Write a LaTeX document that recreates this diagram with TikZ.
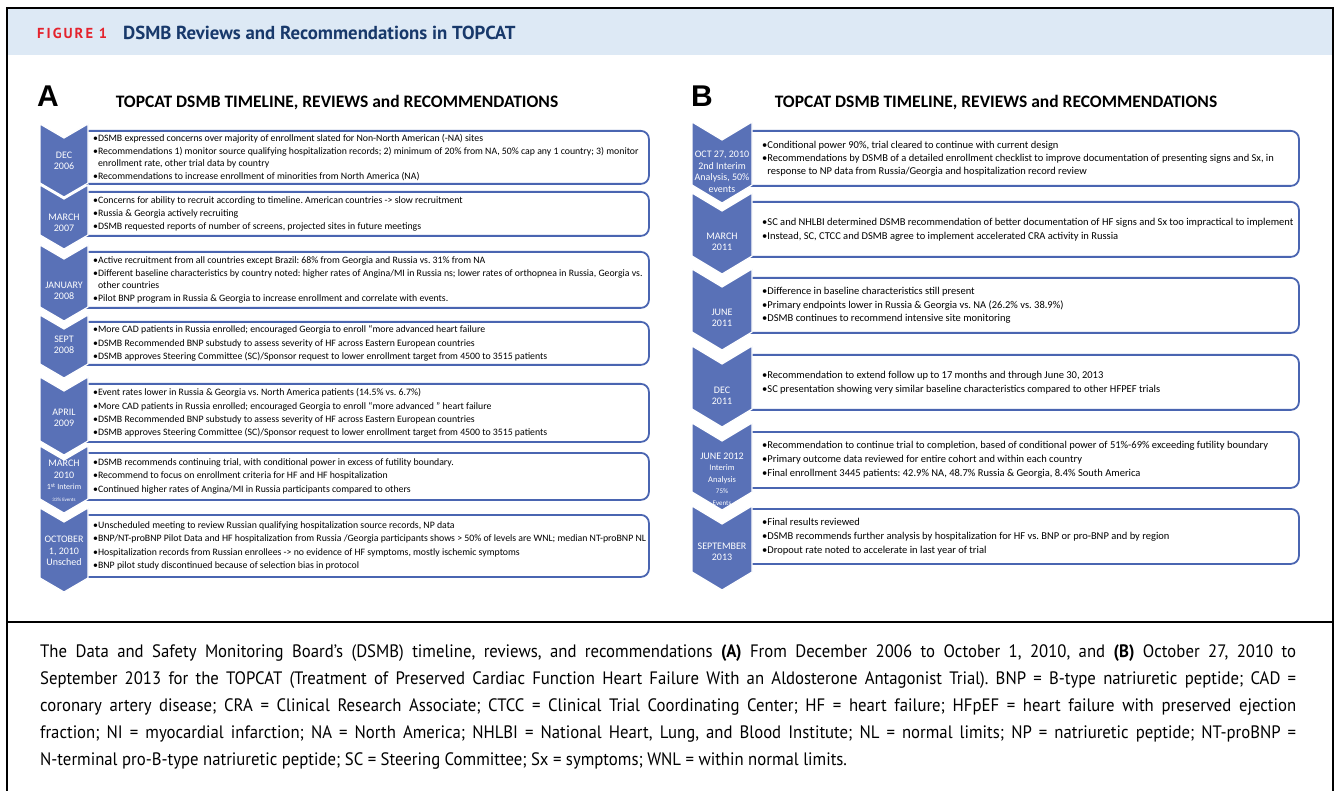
\documentclass[tikz,border=0pt]{standalone}
\usepackage{fontspec}
\setmainfont{Carlito}
\newfontfamily\capfont[FakeStretch=0.93]{PT Sans}
\newfontfamily\hdrfont{PT Sans}
\newfontfamily\panelfont{Liberation Sans}
\usetikzlibrary{positioning}

\definecolor{chevblue}{RGB}{89,113,183}
\definecolor{edgeblue}{RGB}{74,101,177}
\definecolor{hdrband}{RGB}{221,233,245}
\definecolor{figred}{RGB}{228,35,45}
\definecolor{navy}{RGB}{24,57,107}

% chevron: name, left x, right x, depth, top, bottom, label y, label
\newcommand{\chev}[8]{%
  \filldraw[chev] (#2,#5) -- ({(#2+#3)/2},{#5+#4}) -- (#3,#5) -- (#3,#6)
    -- ({(#2+#3)/2},{#6+#4}) -- (#2,#6) -- cycle;
  \node[datelab] (#1) at ({(#2+#3)/2},#7) {#8};
}

\begin{document}
\frenchspacing
\begin{tikzpicture}[x=1pt, y=-1pt,
  chev/.style={fill=chevblue, draw=white, line width=1.2pt},
  datelab/.style={text=white, align=center, inner sep=0, font=\fontsize{10}{11.5}\selectfont},
  abox/.style={draw=edgeblue, line width=1.8pt, rounded corners=8pt, fill=white,
    anchor=north west, minimum width=570pt, inner sep=0},
  bbox/.style={abox, minimum width=556pt},
  atxt/.style={align=left, inner sep=0, font=\fontsize{9.8}{11.6}\selectfont},
  btxt/.style={align=left, inner sep=0, font=\fontsize{10.5}{12.3}\selectfont},
  ptitle/.style={inner sep=0, font=\bfseries\fontsize{17.5}{19}\selectfont},
  plabel/.style={anchor=west, inner sep=0, font=\panelfont\bfseries\fontsize{30}{30}\selectfont}]

\useasboundingbox (0,0) rectangle (1336,791);

% frame and header
\fill[hdrband] (7,8) rectangle (1333,55);
\draw[line width=1.3pt] (7,8) rectangle (1333,800);
\draw[line width=1.3pt] (7,622) -- (1333,622);
\node[anchor=west, inner sep=0, text=figred, font=\hdrfont\bfseries\fontsize{14.5}{16}\selectfont] (fig) at (37,33) {\addfontfeatures{LetterSpace=14}FIGURE 1};
\node[anchor=west, inner sep=0, text=navy, font=\hdrfont\bfseries\fontsize{18.8}{21}\selectfont] (figtitle) at (123,33) {DSMB Reviews and Recommendations in TOPCAT};

% panel A
\node[plabel] (pa) at (37,96) {A};
\node[ptitle] (titleA) at (337,103) {TOPCAT DSMB TIMELINE, REVIEWS and RECOMMENDATIONS};

\node[abox, minimum height=53pt] (a1) at (78,130) {};
\node[abox, minimum height=44pt] (a2) at (78,191) {};
\node[abox, minimum height=56pt] (a3) at (78,251) {};
\node[abox, minimum height=43pt] (a4) at (78,321) {};
\node[abox, minimum height=58pt] (a5) at (78,383) {};
\node[abox, minimum height=47pt] (a6) at (78,452) {};
\node[abox, minimum height=62pt] (a7) at (78,514) {};

\chev{da1}{40}{88}{14}{124}{183}{161}{DEC\\2006}
\chev{da2}{40}{88}{14}{185}{235}{223}{MARCH\\2007}
\chev{da3}{40}{88}{14}{245}{307}{291}{JANUARY\\2008}
\chev{da4}{40}{88}{14}{315}{364}{345}{SEPT\\2008}
\chev{da5}{40}{88}{14}{377}{441}{418}{APRIL\\2009}
\chev{da6}{40}{88}{14}{446}{499}{481}{MARCH\\2010\\{\fontsize{8}{9}\selectfont 1\textsuperscript{st} Interim}\\{\fontsize{5}{6}\selectfont 33\% Events}}
\chev{da7}{40}{88}{14}{508}{578}{551}{OCTOBER\\1, 2010\\Unsched}

\node[atxt, right=15pt of a1.west] (ta1) {%
•DSMB expressed concerns over majority of enrollment slated for Non-North American (-NA) sites\\[1.5pt]
•Recommendations 1) monitor source qualifying hospitalization records; 2) minimum of 20\% from NA, 50\% cap any 1 country; 3) monitor\\
\phantom{•}enrollment rate, other trial data by country\\[1.5pt]
•Recommendations to increase enrollment of minorities from North America (NA)};
\node[atxt, right=15pt of a2.west] (ta2) {%
•Concerns for ability to recruit according to timeline. American countries -> slow recruitment\\[1.5pt]
•Russia \& Georgia actively recruiting\\[1.5pt]
•DSMB requested reports of number of screens, projected sites in future meetings};
\node[atxt, right=15pt of a3.west] (ta3) {%
•Active recruitment from all countries except Brazil: 68\% from Georgia and Russia vs. 31\% from NA\\[1.5pt]
•Different baseline characteristics by country noted: higher rates of Angina/MI in Russia ns; lower rates of orthopnea in Russia, Georgia vs.\\
\phantom{•}other countries\\[1.5pt]
•Pilot BNP program in Russia \& Georgia to increase enrollment and correlate with events.};
\node[atxt, right=15pt of a4.west] (ta4) {%
•More CAD patients in Russia enrolled; encouraged Georgia to enroll “more advanced heart failure\\[1.5pt]
•DSMB Recommended BNP substudy to assess severity of HF across Eastern European countries\\[1.5pt]
•DSMB approves Steering Committee (SC)/Sponsor request to lower enrollment target from 4500 to 3515 patients};
\node[atxt, right=15pt of a5.west] (ta5) {%
•Event rates lower in Russia \& Georgia vs. North America patients (14.5\% vs. 6.7\%)\\[1.5pt]
•More CAD patients in Russia enrolled; encouraged Georgia to enroll “more advanced ” heart failure\\[1.5pt]
•DSMB Recommended BNP substudy to assess severity of HF across Eastern European countries\\[1.5pt]
•DSMB approves Steering Committee (SC)/Sponsor request to lower enrollment target from 4500 to 3515 patients};
\node[atxt, right=15pt of a6.west] (ta6) {%
•DSMB recommends continuing trial, with conditional power in excess of futility boundary.\\[1.5pt]
•Recommend to focus on enrollment criteria for HF and HF hospitalization\\[1.5pt]
•Continued higher rates of Angina/MI in Russia participants compared to others};
\node[atxt, right=15pt of a7.west] (ta7) {%
•Unscheduled meeting to review Russian qualifying hospitalization source records, NP data\\[1.5pt]
•BNP/NT-proBNP Pilot Data and HF hospitalization from Russia /Georgia participants shows > 50\% of levels are WNL; median NT-proBNP NL\\[1.5pt]
•Hospitalization records from Russian enrollees -> no evidence of HF symptoms, mostly ischemic symptoms\\[1.5pt]
•BNP pilot study discontinued because of selection bias in protocol};

% panel B
\node[plabel] (pb) at (691,96) {B};
\node[ptitle] (titleB) at (996,103) {TOPCAT DSMB TIMELINE, REVIEWS and RECOMMENDATIONS};

\node[bbox, minimum height=55pt] (b1) at (742,130) {};
\node[bbox, minimum height=55pt] (b2) at (742,201) {};
\node[bbox, minimum height=55pt] (b3) at (742,277) {};
\node[bbox, minimum height=55pt] (b4) at (742,354) {};
\node[bbox, minimum height=56pt] (b5) at (742,431) {};
\node[bbox, minimum height=55pt] (b6) at (742,508) {};

\chev{db1}{692}{752}{18}{122}{185}{172}{OCT 27, 2010\\2nd Interim\\Analysis, 50\%\\events}
\chev{db2}{692}{752}{18}{193}{256}{242}{MARCH\\2011}
\chev{db3}{692}{752}{18}{269}{332}{318}{JUNE\\2011}
\chev{db4}{692}{752}{18}{346}{409}{396}{DEC\\2011}
\chev{db5}{692}{752}{18}{423}{492}{479}{JUNE 2012\\{\fontsize{8.5}{9.5}\selectfont Interim}\\{\fontsize{8.5}{9.5}\selectfont Analysis}\\{\fontsize{7}{9}\selectfont 75\%}\\{\fontsize{7}{9}\selectfont Events}}
\chev{db6}{692}{752}{18}{506}{572}{552}{SEPTEMBER\\2013}

\node[btxt, right=20pt of b1.west] (tb1) {%
•Conditional power 90\%, trial cleared to continue with current design\\[1.5pt]
•Recommendations by DSMB of a detailed enrollment checklist to improve documentation of presenting signs and Sx, in\\
\phantom{•}response to NP data from Russia/Georgia and hospitalization record review};
\node[btxt, right=20pt of b2.west] (tb2) {%
•SC and NHLBI determined DSMB recommendation of better documentation of HF signs and Sx too impractical to implement\\[1.5pt]
•Instead, SC, CTCC and DSMB agree to implement accelerated CRA activity in Russia};
\node[btxt, right=20pt of b3.west] (tb3) {%
•Difference in baseline characteristics still present\\[1.5pt]
•Primary endpoints lower in Russia \& Georgia vs. NA (26.2\% vs. 38.9\%)\\[1.5pt]
•DSMB continues to recommend intensive site monitoring};
\node[btxt, right=20pt of b4.west] (tb4) {%
•Recommendation to extend follow up to 17 months and through June 30, 2013\\[1.5pt]
•SC presentation showing very similar baseline characteristics compared to other HFPEF trials};
\node[btxt, right=20pt of b5.west] (tb5) {%
•Recommendation to continue trial to completion, based of conditional power of 51\%-69\% exceeding futility boundary\\[1.5pt]
•Primary outcome data reviewed for entire cohort and within each country\\[1.5pt]
•Final enrollment 3445 patients: 42.9\% NA, 48.7\% Russia \& Georgia, 8.4\% South America};
\node[btxt, right=20pt of b6.west] (tb6) {%
•Final results reviewed\\[1.5pt]
•DSMB recommends further analysis by hospitalization for HF vs. BNP or pro-BNP and by region\\[1.5pt]
•Dropout rate noted to accelerate in last year of trial};

% caption
\node[anchor=north west, inner sep=0, text width=1256pt, align=justify,
  font=\capfont\fontsize{18}{27}\selectfont] (cap) at (40,644) {The Data and Safety Monitoring Board’s (DSMB) timeline, reviews, and recommendations \textbf{(A)} From December 2006 to October 1, 2010, and \textbf{(B)} October 27, 2010 to\linebreak
September 2013 for the TOPCAT (Treatment of Preserved Cardiac Function Heart Failure With an Aldosterone Antagonist Trial). BNP = B-type natriuretic peptide; CAD =\linebreak
coronary artery disease; CRA = Clinical Research Associate; CTCC = Clinical Trial Coordinating Center; HF = heart failure; HFpEF = heart failure with preserved ejection\linebreak
fraction; NI = myocardial infarction; NA = North America; NHLBI = National Heart, Lung, and Blood Institute; NL = normal limits; NP = natriuretic peptide; NT-proBNP =\linebreak
N-terminal pro-B-type natriuretic peptide; SC = Steering Committee; Sx = symptoms; WNL = within normal limits.};
\end{tikzpicture}
\end{document}
